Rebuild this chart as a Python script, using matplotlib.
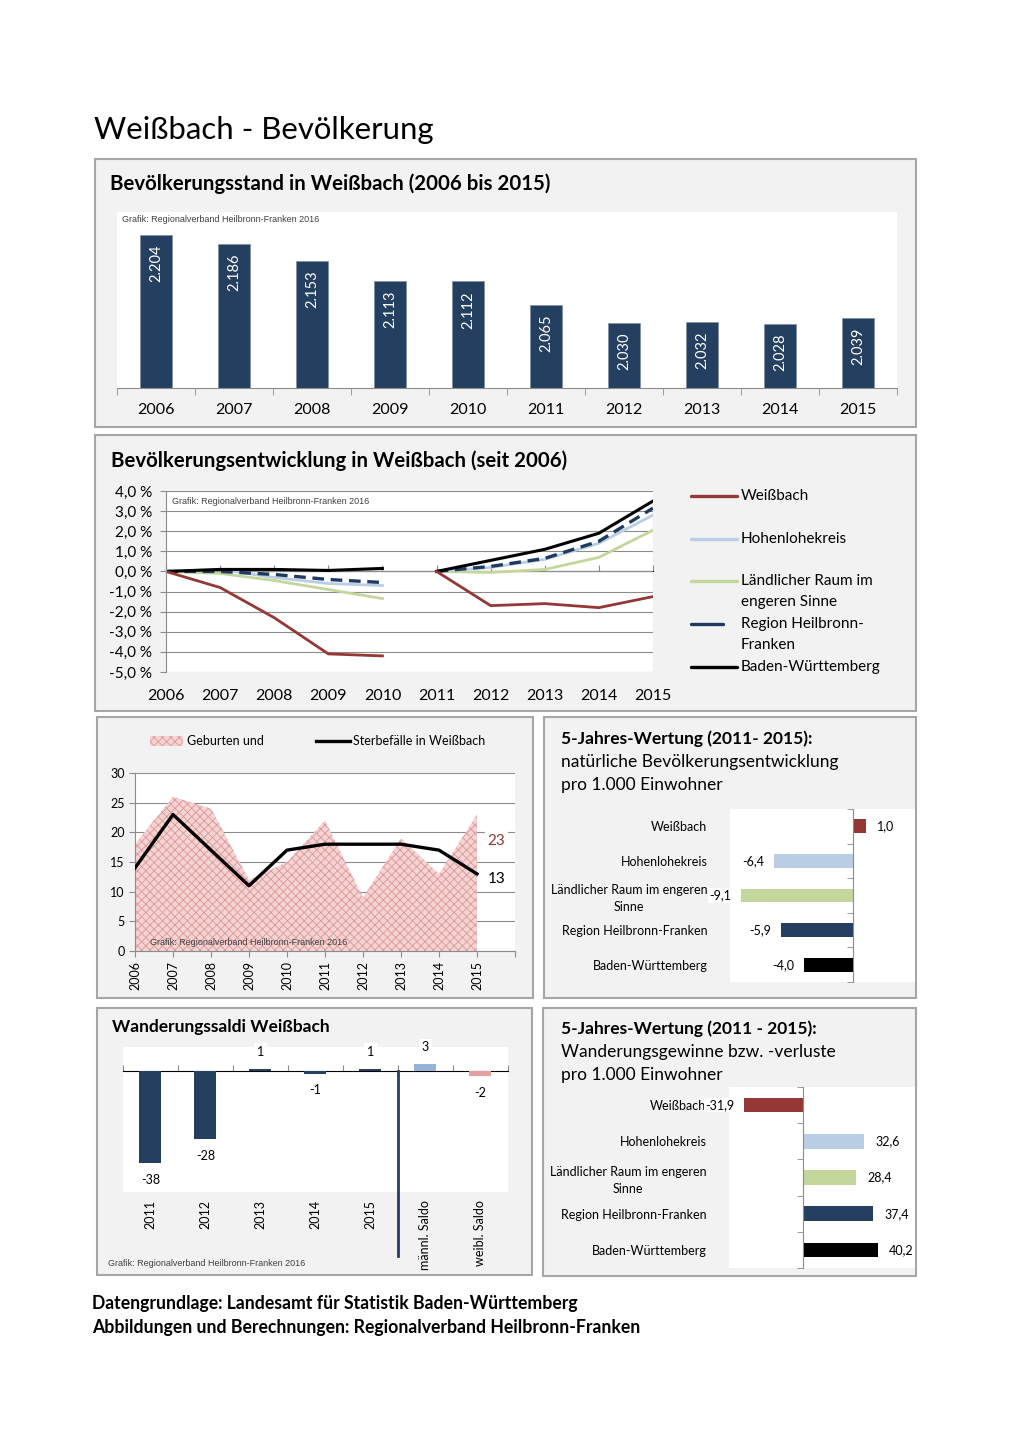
#!/usr/bin/env python3

# Weißbach - Bevölkerung: one page with six small charts

import numpy as np
import matplotlib
matplotlib.use("Agg")
import matplotlib.pyplot as plt
from matplotlib.patches import Rectangle
from matplotlib.lines import Line2D

W, H = 1020, 1443
FONT = "Lato"
ARIAL = "Liberation Sans"
plt.rcParams["font.family"] = FONT
plt.rcParams["hatch.linewidth"] = 0.6

# --- data ---
jahre = [2006, 2007, 2008, 2009, 2010, 2011, 2012, 2013, 2014, 2015]
einwohner = [2204, 2186, 2153, 2113, 2112, 2065, 2030, 2032, 2028, 2039]

# change in % (2006-2010 against 2006, 2011-2015 against 2011)
entw_weissbach = [0, -0.8, -2.3, -4.1, -4.2, 0, -1.7, -1.6, -1.8, -1.25]
entw_hohenlohe = [0, 0.1, -0.3, -0.6, -0.7, 0, 0.2, 0.6, 1.4, 2.8]
entw_laendlich = [0, -0.1, -0.45, -0.9, -1.35, 0, -0.05, 0.1, 0.7, 2.05]
entw_region = [0, 0.0, -0.15, -0.4, -0.55, 0, 0.25, 0.65, 1.5, 3.15]
entw_bw = [0, 0.1, 0.1, 0.05, 0.15, 0, 0.55, 1.1, 1.9, 3.5]

geburten = [18, 26, 24, 12, 15, 22, 9, 19, 13, 23]
sterbefaelle = [14, 23, 17, 11, 17, 18, 18, 18, 17, 13]

regionen = ["Weißbach", "Hohenlohekreis", "Ländlicher Raum im engeren\nSinne",
            "Region Heilbronn-Franken", "Baden-Württemberg"]
natuerlich_5j = [1.0, -6.4, -9.1, -5.9, -4.0]
wanderung_5j = [-31.9, 32.6, 28.4, 37.4, 40.2]

saldo_labels = ["2011", "2012", "2013", "2014", "2015", "männl. Saldo", "weibl. Saldo"]
saldo_werte = [-38, -28, 1, -1, 1, 3, -2]

# --- colours ---
NAVY = "#243F60"
RED = "#953735"
LBLUE = "#B9CDE5"
GREEN = "#C3D69B"
GRID = "#8C8C8C"
PANEL = "#F2F2F2"
PINK = "#F4D3D3"
PINK_HATCH = "#DF9696"
region_farben = [RED, LBLUE, GREEN, NAVY, "black"]
saldo_farben = [NAVY] * 5 + ["#95B3D7", "#E6A0A0"]

GRAFIK = "Grafik: Regionalverband Heilbronn-Franken 2016"

fig = plt.figure(figsize=(W / 100, H / 100), dpi=100)
fig.patch.set_facecolor("white")


def box(x0, y0, x1, y1):
    return [x0 / W, 1 - y1 / H, (x1 - x0) / W, (y1 - y0) / H]


def ftext(x, y, s, **kw):
    kw.setdefault("va", "center")
    fig.text(x / W, 1 - y / H, s, **kw)


def panel(x0, y0, x1, y1):
    fig.add_artist(Rectangle((x0 / W, 1 - y1 / H), (x1 - x0) / W, (y1 - y0) / H,
                             transform=fig.transFigure, facecolor=PANEL,
                             edgecolor="#A6A6A6", lw=1.5, zorder=-5))


def de(v):
    return f"{v:.1f}".replace(".", ",")


ftext(94, 130, "Weißbach - Bevölkerung", fontsize=22.4)

# ---------- 1: Bevölkerungsstand ----------
panel(95, 159, 916, 427)
ftext(110, 184, "Bevölkerungsstand in Weißbach (2006 bis 2015)", fontsize=14.7, fontweight="bold")
ax1 = fig.add_axes(box(117, 212, 897, 388))
x1 = np.arange(len(jahre))
ax1.bar(x1, einwohner, width=0.4, color=NAVY, edgecolor="#7F8FA6", lw=0.5)
ax1.set_xlim(-0.5, len(jahre) - 0.5)
ax1.set_ylim(1900, 2250)
for s in ["top", "right", "left"]:
    ax1.spines[s].set_visible(False)
ax1.spines["bottom"].set_color(GRID)
ax1.set_yticks([])
ax1.set_xticks(x1)
ax1.set_xticklabels(jahre, fontsize=11.5)
ax1.set_xticks(np.arange(-0.5, len(jahre)), minor=True)
ax1.tick_params(axis="x", which="major", length=0, pad=11)
ax1.tick_params(axis="x", which="minor", length=5, color=GRID)
for i, v in enumerate(einwohner):
    ax1.annotate(f"{v:,}".replace(",", "."), (i, v), xytext=(0, -7), textcoords="offset points",
                 rotation=90, ha="center", va="top", color="white", fontsize=10.5)
ax1.text(0.006, 0.955, GRAFIK, transform=ax1.transAxes, fontsize=6.5, family=ARIAL,
         color="#404040", va="center")

# ---------- 2: Bevölkerungsentwicklung ----------
panel(95, 435, 916, 711)
ftext(111, 461, "Bevölkerungsentwicklung in Weißbach (seit 2006)", fontsize=14.7, fontweight="bold")
ax2 = fig.add_axes(box(166, 491, 653, 672))
x2 = np.arange(len(jahre))
reihen = [(entw_laendlich, GREEN, "-", 2.0),
          (entw_hohenlohe, LBLUE, "-", 2.0),
          (entw_region, "#1F3A5F", "--", 2.4),
          (entw_bw, "black", "-", 2.2),
          (entw_weissbach, RED, "-", 2.0)]
for werte, farbe, ls, lw in reihen:
    for seg in (slice(0, 5), slice(5, 10)):
        ln, = ax2.plot(x2[seg], werte[seg], color=farbe, ls=ls, lw=lw)
        if ls == "--":
            ln.set_dashes((3.5, 2))
ax2.set_xlim(0, 9)
ax2.set_ylim(-5, 4)
ax2.set_yticks(np.arange(-5, 5))
ax2.set_yticklabels([de(v) + " %" for v in np.arange(-5, 5)], fontsize=11)
ax2.yaxis.grid(True, color=GRID, lw=0.8)
ax2.set_axisbelow(True)
for s in ["top", "right", "bottom"]:
    ax2.spines[s].set_visible(False)
ax2.spines["left"].set_color(GRID)
ax2.tick_params(axis="y", length=4, color=GRID, pad=6)
ax2.set_xticks(x2)
ax2.set_xticklabels(jahre, fontsize=11.5)
ax2.tick_params(axis="x", length=0, pad=12)
sec2 = ax2.secondary_xaxis(5 / 9)
sec2.set_xticks(x2)
sec2.set_xticklabels([])
sec2.tick_params(length=4, color=GRID)
sec2.spines["bottom"].set_color(GRID)
ax2.text(0.012, 0.94, GRAFIK, transform=ax2.transAxes, fontsize=6.5, family=ARIAL,
         color="#404040", va="center")

# legend
leg = [("Weißbach", RED, 737, [496]),
       ("Hohenlohekreis", LBLUE, 737, [539]),
       ("Ländlicher Raum im\nengeren Sinne", GREEN, 737, [581, 602]),
       ("Region Heilbronn-\nFranken", "#1F3A5F", 723, [624, 645]),
       ("Baden-Württemberg", "black", 737, [667])]
for text, farbe, xe, ys in leg:
    yl = 1 - ys[0] / H
    fig.add_artist(Line2D([691 / W, xe / W], [yl, yl], color=farbe, lw=2.4,
                          solid_capstyle="round"))
    for zeile, yy in zip(text.split("\n"), ys):
        ftext(741, yy, zeile, fontsize=11)

# ---------- 3: Geburten und Sterbefälle ----------
panel(97, 717, 533, 998)
ax3 = fig.add_axes(box(135, 773, 515, 951))
ax3.fill_between(jahre, geburten, 0, facecolor=PINK, edgecolor=PINK_HATCH, hatch="xxxx",
                 lw=0, zorder=2)
ax3.plot(jahre, sterbefaelle, color="black", lw=2.4, zorder=3)
ax3.set_xlim(2006, 2016)
ax3.set_ylim(0, 30)
ax3.set_yticks(np.arange(0, 31, 5))
ax3.yaxis.grid(True, color=GRID, lw=0.8, zorder=0)
ax3.set_axisbelow(True)
for s in ["top", "right"]:
    ax3.spines[s].set_visible(False)
ax3.spines["left"].set_color(GRID)
ax3.spines["bottom"].set_color(GRID)
ax3.set_xticks(jahre + [2016])
ax3.set_xticklabels([str(j) for j in jahre] + [""], rotation=90, fontsize=9)
ax3.tick_params(axis="both", length=4, color=GRID, labelsize=9)
ax3.tick_params(axis="x", pad=3)
ax3.annotate(str(geburten[-1]), (jahre[-1], geburten[-1]), xytext=(14, -19),
             textcoords="offset points", ha="center", va="center", color=RED, fontsize=11,
             bbox=dict(facecolor="white", edgecolor="none", pad=2))
ax3.annotate(str(sterbefaelle[-1]), (jahre[-1], sterbefaelle[-1]), xytext=(14, -4),
             textcoords="offset points", ha="center", va="center", color="black", fontsize=11,
             bbox=dict(facecolor="white", edgecolor="none", pad=2))
ax3.text(0.04, 0.045, GRAFIK, transform=ax3.transAxes, fontsize=6.5, family=ARIAL,
         color="#404040", va="center", zorder=4)
# legend
fig.add_artist(Rectangle((150 / W, 1 - 746 / H), 33 / W, 10 / H, transform=fig.transFigure,
                         facecolor=PINK, edgecolor=PINK_HATCH, hatch="xxxx", lw=0))
ftext(187, 741, "Geburten und", fontsize=9)
fig.add_artist(Line2D([316 / W, 350 / W], [1 - 741 / H] * 2, color="black", lw=2.4))
ftext(353, 741, "Sterbefälle in Weißbach", fontsize=9)


# ---------- horizontal bar charts ----------
def hbar(ax, werte, xmin, xmax):
    y = np.arange(len(werte))
    ax.barh(y, werte, height=0.4, color=region_farben, zorder=2)
    ax.set_xlim(xmin, xmax)
    ax.set_ylim(len(werte) - 0.5, -0.5)
    for s in ["top", "right", "bottom"]:
        ax.spines[s].set_visible(False)
    ax.spines["left"].set_position(("data", 0))
    ax.spines["left"].set_color(GRID)
    ax.set_xticks([])
    ax.set_yticks(y)
    ax.set_yticklabels(regionen, fontsize=9, multialignment="center", linespacing=1.45)
    ax.set_yticks(np.arange(-0.5, len(werte)), minor=True)
    ax.tick_params(axis="y", which="minor", length=4, color=GRID)
    ax.tick_params(axis="y", which="major", length=0)
    for i, v in enumerate(werte):
        if v >= 0:
            ax.annotate(de(v), (v, i), xytext=(8, 0), textcoords="offset points",
                        ha="left", va="center", fontsize=9)
        else:
            ax.annotate(de(v), (v, i), xytext=(-7, 0), textcoords="offset points",
                        ha="right", va="center", fontsize=9,
                        bbox=dict(facecolor="white", edgecolor="none", pad=1))


panel(544, 717, 916, 998)
ftext(561, 739, "5-Jahres-Wertung (2011- 2015):", fontsize=12.5, fontweight="bold")
ftext(561, 762, "natürliche Bevölkerungsentwicklung", fontsize=12.5)
ftext(561, 785, "pro 1.000 Einwohner", fontsize=12.5)
ax4 = fig.add_axes(box(730, 809, 915, 982))
hbar(ax4, natuerlich_5j, -10, 5)
ax4.tick_params(axis="y", which="major", pad=(853 - 707) * 0.72)

panel(543, 1008, 916, 1276)
ftext(561, 1029, "5-Jahres-Wertung (2011 - 2015):", fontsize=12.5, fontweight="bold")
ftext(561, 1052, "Wanderungsgewinne bzw. -verluste", fontsize=12.5)
ftext(561, 1075, "pro 1.000 Einwohner", fontsize=12.5)
ax6 = fig.add_axes(box(729, 1087, 915, 1268))
hbar(ax6, wanderung_5j, -40, 60)
ax6.tick_params(axis="y", which="major", pad=(803 - 706) * 0.72)

# ---------- 5: Wanderungssaldi ----------
panel(97, 1008, 532, 1275)
ftext(112, 1027, "Wanderungssaldi Weißbach", fontsize=12.5, fontweight="bold")
ax5 = fig.add_axes(box(123, 1047, 508, 1192))
x5 = np.arange(len(saldo_werte))
ax5.bar(x5, saldo_werte, width=0.4, color=saldo_farben, zorder=2)
ax5.set_xlim(-0.5, len(saldo_werte) - 0.5)
ax5.set_ylim(-50, 10)
for s in ["top", "right", "left", "bottom"]:
    ax5.spines[s].set_visible(False)
ax5.set_yticks([])
ax5.set_xticks(x5)
ax5.set_xticklabels(saldo_labels, rotation=90, fontsize=9)
ax5.tick_params(axis="x", length=0, pad=6)
sec5 = ax5.secondary_xaxis(50 / 60)
sec5.set_xticks(np.arange(-0.5, len(saldo_werte)))
sec5.set_xticklabels([])
sec5.tick_params(length=4, color=GRID)
sec5.spines["bottom"].set_color(GRID)
ax5.axvline(4.5, ymin=-0.44, ymax=50 / 60, color=NAVY, lw=2, clip_on=False, zorder=3)
for i, v in enumerate(saldo_werte):
    off = 12 if v > 0 else -12
    ax5.annotate(str(v), (i, v), xytext=(0, off), textcoords="offset points",
                 ha="center", va="center", fontsize=9,
                 bbox=dict(facecolor="white", edgecolor="none", pad=2))
ftext(108, 1264, GRAFIK, fontsize=6.5, family=ARIAL, color="#404040")

# ---------- footer ----------
ftext(92, 1303, "Datengrundlage: Landesamt für Statistik Baden-Württemberg", fontsize=12.7,
      fontweight="bold")
ftext(92, 1328, "Abbildungen und Berechnungen: Regionalverband Heilbronn-Franken", fontsize=12.7,
      fontweight="bold")

fig.savefig("out.png", dpi=100)
